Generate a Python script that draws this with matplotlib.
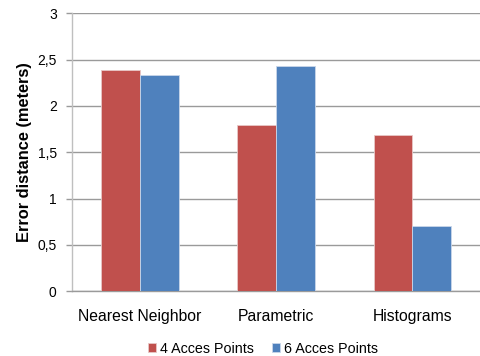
import matplotlib.pyplot as plt
import numpy as np

plt.rcParams['font.family'] = ['Liberation Sans', 'DejaVu Sans']

# mean error distance per method and number of access points
methods = ['Nearest Neighbor', 'Parametric', 'Histograms']
ap4 = [2.39, 1.80, 1.69]
ap6 = [2.33, 2.43, 0.70]
series_names = ['4 Acces Points', '6 Acces Points']
yticks = [0, 0.5, 1, 1.5, 2, 2.5, 3]
ytick_labels = ['0', '0,5', '1', '1,5', '2', '2,5', '3']

red = '#C0504D'
blue = '#4F81BD'
grid_col = '#9A9A9A'

fig = plt.figure(figsize=(4.8, 3.56), dpi=100)
ax = fig.add_axes([72 / 480, 1 - 291.3 / 356, 408.3 / 480, 278 / 356])

x = np.arange(len(methods))
w = 0.284
ax.bar(x - w / 2, ap4, width=w, color=red, edgecolor='#E8C8C7', linewidth=0.6,
       label=series_names[0], zorder=3)
ax.bar(x + w / 2, ap6, width=w, color=blue, edgecolor='#C9D6EA', linewidth=0.6,
       label=series_names[1], zorder=3)

ax.set_xlim(-0.5, 2.5)
ax.set_ylim(0, 3)
ax.set_yticks(yticks)
ax.set_yticklabels(ytick_labels, fontsize=10)
ax.set_xticks(x)
ax.set_xticklabels(methods, fontsize=11.3)
ax.tick_params(axis='x', length=0, pad=13)
ax.tick_params(axis='y', length=4, color=grid_col, pad=7, width=1)

ax.yaxis.grid(True, color=grid_col, linewidth=1, zorder=0)
for side in ['top', 'right']:
    ax.spines[side].set_visible(False)
ax.spines['left'].set_color('#BFBFBF')
ax.spines['bottom'].set_color(grid_col)
ax.spines['left'].set_linewidth(1)
ax.spines['bottom'].set_linewidth(1)

ax.set_ylabel('Error distance (meters)', fontsize=11.8, fontweight='bold', labelpad=4)

fig.legend(loc='lower center', bbox_to_anchor=(0.548, -0.035), ncol=2, frameon=False,
           fontsize=10.3, handlelength=0.55, handleheight=0.55, handletextpad=0.25,
           columnspacing=1.3)

fig.savefig('out.png', dpi=100)
